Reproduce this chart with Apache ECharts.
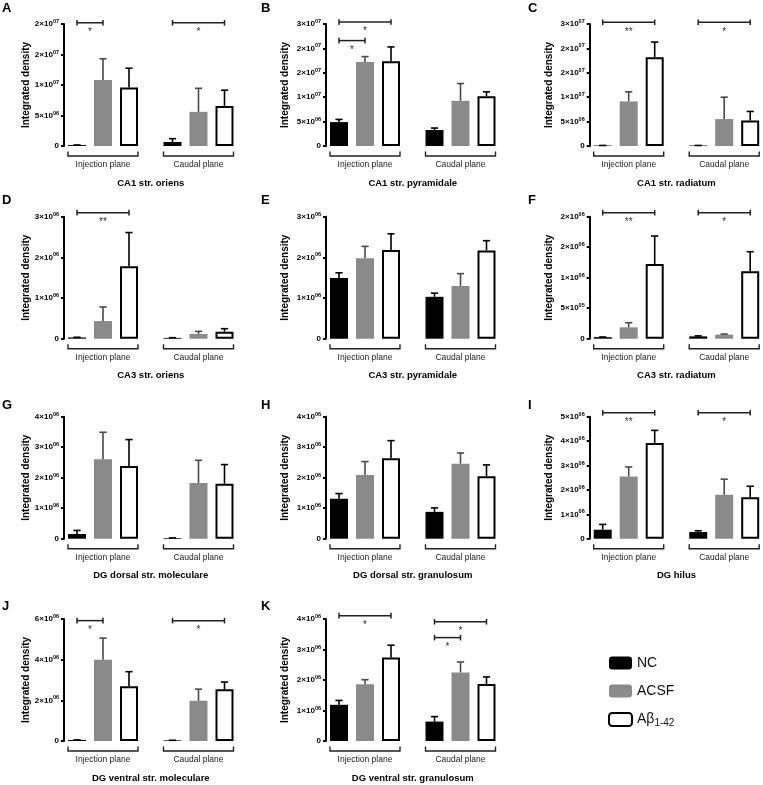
<!DOCTYPE html>
<html><head><meta charset="utf-8">
<script src="https://cdn.jsdelivr.net/npm/echarts@6/dist/echarts.min.js"></script>
<style>html,body{margin:0;padding:0;background:#fff}#c{width:763px;height:785px}</style>
</head><body><div id="c"></div>
<script>
// ---------- DATA ----------
const groups = ['Injection plane', 'Caudal plane'];
const treatments = ['NC', 'ACSF', 'Aβ1-42'];
const panelLetters = ['A','B','C','D','E','F','G','H','I','J','K'];
const panelTitles = ['CA1 str. oriens','CA1 str. pyramidale','CA1 str. radiatum',
  'CA3 str. oriens','CA3 str. pyramidale','CA3 str. radiatum',
  'DG dorsal str. moleculare','DG dorsal str. granulosum','DG hilus',
  'DG ventral str. moleculare','DG ventral str. granulosum'];
const yMax  = [2e7, 2.5e7, 2.5e7, 3e6, 3e6, 2e6, 4e6, 4e6, 5e6, 6e6, 4e6];
const yStep = [5e6, 5e6, 5e6, 1e6, 1e6, 5e5, 1e6, 1e6, 1e6, 2e6, 1e6];

const tickA = ['0','5×10^06','1×10^07','2×10^07','2×10^07'];
const tickB = ['0','5×10^06','1×10^07','2×10^07','2×10^07','3×10^07'];
const tickC = ['0','5×10^06','1×10^07','2×10^07','2×10^07','3×10^07'];
const tickD = ['0','1×10^06','2×10^06','3×10^06'];
const tickE = ['0','1×10^06','2×10^06','3×10^06'];
const tickF = ['0','5×10^05','1×10^06','2×10^06','2×10^06'];
const tickG = ['0','1×10^06','2×10^06','3×10^06','4×10^06'];
const tickH = ['0','1×10^06','2×10^06','3×10^06','4×10^06'];
const tickI = ['0','1×10^06','2×10^06','3×10^06','4×10^06','5×10^06'];
const tickJ = ['0','2×10^06','4×10^06','6×10^06'];
const tickK = ['0','1×10^06','2×10^06','3×10^06','4×10^06'];

// means: [NC, ACSF, Aβ1-42], each [Injection plane, Caudal plane]
const meanA = [[1.5e5, 6.6e5], [1.08e7, 5.6e6], [9.6e6, 6.55e6]];
const semA  = [[2e4, 5.4e5], [3.5e6, 3.85e6], [3.15e6, 2.6e6]];
const meanB = [[4.9e6, 3.27e6], [1.723e7, 9.26e6], [1.737e7, 1.022e7]];
const semB  = [[5.5e5, 4.1e5], [1.09e6, 3.54e6], [2.93e6, 8.8e5]];
const meanC = [[1e5, 1e5], [9.13e6, 5.52e6], [1.819e7, 5.25e6]];
const semC  = [[1e4, 1e4], [1.97e6, 4.48e6], [3.11e6, 1.83e6]];
const meanD = [[3e4, 2e4], [4.34e5, 1.15e5], [1.78e6, 1.72e5]];
const semD  = [[5e3, 5e3], [3.46e5, 6.5e4], [8.3e5, 7.4e4]];
const meanE = [[1.49e6, 1.03e6], [1.98e6, 1.295e6], [2.18e6, 2.17e6]];
const semE  = [[1.3e5, 9e4], [2.9e5, 3.05e5], [4e5, 2.4e5]];
const meanF = [[2.5e4, 3.8e4], [1.86e5, 6.6e4], [1.224e6, 1.104e6]];
const semF  = [[3e3, 8e3], [7.6e4, 1e4], [4.59e5, 3.22e5]];
const meanG = [[1.53e5, 2.2e4], [2.605e6, 1.83e6], [2.387e6, 1.8e6]];
const semG  = [[1.19e5, 4e3], [8.85e5, 7.4e5], [8.63e5, 6.3e5]];
const meanH = [[1.31e6, 8.8e5], [2.09e6, 2.46e6], [2.64e6, 2.05e6]];
const semH  = [[1.7e5, 1.3e5], [4.4e5, 3.5e5], [5.75e5, 3.7e5]];
const meanI = [[3.68e5, 2.72e5], [2.55e6, 1.8e6], [3.92e6, 1.7e6]];
const semI  = [[2.18e5, 5.5e4], [3.9e5, 6.4e5], [5.2e5, 4.5e5]];
const meanJ = [[5e4, 3e4], [4.0e6, 1.98e6], [2.69e6, 2.54e6]];
const semJ  = [[5e3, 5e3], [1.06e6, 5.7e5], [7.2e5, 3.6e5]];
const meanK = [[1.187e6, 6.37e5], [1.857e6, 2.25e6], [2.736e6, 1.868e6]];
const semK  = [[1.43e5, 1.63e5], [1.53e5, 3.4e5], [4.04e5, 2.32e5]];

// significance: [group, treatment from, treatment to, bar level (data units), label]
const sigA = [[0, 0, 1, 2.02e7, '*'], [1, 0, 2, 2.02e7, '*']];
const sigB = [[0, 0, 2, 2.54e7, '*'], [0, 0, 1, 2.16e7, '*']];
const sigC = [[0, 0, 2, 2.535e7, '**'], [1, 0, 2, 2.535e7, '*']];
const sigD = [[0, 0, 2, 3.1e6, '**']];
const sigE = [];
const sigF = [[0, 0, 2, 2.066e6, '**'], [1, 0, 2, 2.066e6, '*']];
const sigG = [];
const sigH = [];
const sigI = [[0, 0, 2, 5.16e6, '**'], [1, 0, 2, 5.16e6, '*']];
const sigJ = [[0, 0, 1, 5.92e6, '*'], [1, 0, 2, 5.92e6, '*']];
const sigK = [[0, 0, 2, 4.11e6, '*'], [1, 0, 2, 3.91e6, '*'], [1, 0, 1, 3.39e6, '*']];

const ticks = [tickA,tickB,tickC,tickD,tickE,tickF,tickG,tickH,tickI,tickJ,tickK];
const means = [meanA,meanB,meanC,meanD,meanE,meanF,meanG,meanH,meanI,meanJ,meanK];
const sems  = [semA,semB,semC,semD,semE,semF,semG,semH,semI,semJ,semK];
const sigs  = [sigA,sigB,sigC,sigD,sigE,sigF,sigG,sigH,sigI,sigJ,sigK];

// ---------- LAYOUT / STYLE ----------
const FONT = '"Liberation Sans", Arial, Helvetica, sans-serif';
const COL_AXIS_X = [64, 326, 589.7];
const ROW_TOP = [24, 216.7, 416.7, 619];
const PLOT_H = 122, CAT_W = 95.5, AXIS_INSET = 8.75;
const BAR_W = 18, BAR_STEP = 26;
const NAME_GAP = [33, 36, 35];
const LETTER_X = [7, 266, 533];
const LETTER_Y = [9, 201, 406, 607];
const barStyles = [
  {color: '#000', borderColor: '#000', borderWidth: 0},
  {color: '#8a8a8a', borderColor: '#8a8a8a', borderWidth: 0},
  {color: '#fff', borderColor: '#000', borderWidth: 2}
];
const errColors = ['#000', '#4a4a4a', '#000'];

const tickRich = {
  m: {fontSize: 8, fontWeight: 'bold', fontFamily: FONT, color: '#000'},
  e: {fontSize: 5.5, fontWeight: 'bold', fontFamily: FONT, color: '#000', padding: [0, 0, 5, 0]}
};
function fmtTick(t) {
  if (t === undefined) return '';
  const p = t.split('^');
  return p.length === 1 ? '{m|' + p[0] + '}' : '{m|' + p[0] + '}{e|' + p[1] + '}';
}

const grids = [], xAxes = [], yAxes = [], series = [], graphics = [];

panelTitles.forEach((title, i) => {
  const col = i % 3, row = Math.floor(i / 3);
  grids.push({left: COL_AXIS_X[col] - AXIS_INSET, top: ROW_TOP[row], width: 2 * CAT_W, height: PLOT_H,
    containLabel: false, outerBoundsMode: 'none'});
  xAxes.push({
    gridIndex: i, type: 'category', data: groups,
    axisLine: {show: false}, axisTick: {show: false}, splitLine: {show: false},
    axisLabel: {margin: 14, fontSize: 8.5, color: '#222', fontFamily: FONT},
    name: title, nameLocation: 'middle', nameGap: 32,
    nameTextStyle: {fontWeight: 'bold', fontSize: 9.5, color: '#000', fontFamily: FONT}
  });
  const tk = ticks[i], step = yStep[i];
  yAxes.push({
    gridIndex: i, type: 'value', min: 0, max: yMax[i], interval: step, offset: -AXIS_INSET,
    axisLine: {show: true, lineStyle: {color: '#000', width: 2}},
    axisTick: {show: true, length: 3, lineStyle: {color: '#000', width: 2}},
    splitLine: {show: false},
    axisLabel: {margin: 5, formatter: v => fmtTick(tk[Math.round(v / step)]), rich: tickRich},
    name: 'Integrated density', nameLocation: 'middle', nameGap: NAME_GAP[col],
    nameTextStyle: {fontWeight: 'bold', fontSize: 10, color: '#000', fontFamily: FONT}
  });
  // bars
  treatments.forEach((name, s) => {
    series.push({
      type: 'bar', name, xAxisIndex: i, yAxisIndex: i, data: means[i][s],
      barWidth: BAR_W, barGap: ((BAR_STEP - BAR_W) / BAR_W * 100) + '%',
      itemStyle: barStyles[s], silent: true, animation: false, z: 2
    });
  });
  // error bars
  const errItems = [];
  for (let s = 0; s < 3; s++) for (let g = 0; g < 2; g++)
    errItems.push({g, s, mean: means[i][s][g], sem: sems[i][s][g]});
  series.push({
    type: 'custom', xAxisIndex: i, yAxisIndex: i, silent: true, animation: false, clip: false, z: 3,
    data: errItems.map(e => [e.g, e.mean + e.sem]),
    encode: {x: 0, y: 1},
    renderItem(params, api) {
      const e = errItems[params.dataIndex];
      const b = api.coord([e.g, e.mean]);
      const t = api.coord([e.g, e.mean + e.sem]);
      const x = b[0] + (e.s - 1) * BAR_STEP;
      const c = errColors[e.s];
      return {type: 'group', children: [
        {type: 'line', shape: {x1: x, y1: b[1], x2: x, y2: t[1]}, style: {stroke: c, lineWidth: 1.6}},
        {type: 'line', shape: {x1: x - 3.6, y1: t[1], x2: x + 3.6, y2: t[1]}, style: {stroke: c, lineWidth: 1.6}}
      ]};
    }
  });
  // group brackets under the axis
  series.push({
    type: 'custom', xAxisIndex: i, yAxisIndex: i, silent: true, animation: false, clip: false,
    data: groups.map((g, k) => [k, 0]), encode: {x: 0, y: 1},
    renderItem(params, api) {
      const c = api.coord([api.value(0), 0]);
      const half = BAR_STEP + BAR_W / 2;
      const y0 = c[1] + 5.5, y1 = c[1] + 10;
      return {type: 'polyline', shape: {points: [[c[0] - half, y0], [c[0] - half, y1], [c[0] + half, y1], [c[0] + half, y0]]},
        style: {stroke: '#222', lineWidth: 1.4, fill: null}};
    }
  });
  // significance bars
  const sg = sigs[i];
  if (sg.length) series.push({
    type: 'custom', xAxisIndex: i, yAxisIndex: i, silent: true, animation: false, clip: false, z: 4,
    data: sg.map(d => [d[0], d[3]]), encode: {x: 0, y: 1},
    renderItem(params, api) {
      const d = sg[params.dataIndex];
      const c = api.coord([d[0], d[3]]);
      const x1 = c[0] + (d[1] - 1) * BAR_STEP, x2 = c[0] + (d[2] - 1) * BAR_STEP, y = c[1];
      const st = {stroke: '#222', lineWidth: 1.5};
      return {type: 'group', children: [
        {type: 'line', shape: {x1, y1: y, x2, y2: y}, style: st},
        {type: 'line', shape: {x1, y1: y - 2.8, x2: x1, y2: y + 2.8}, style: st},
        {type: 'line', shape: {x1: x2, y1: y - 2.8, x2, y2: y + 2.8}, style: st},
        {type: 'text', style: {text: d[4], x: (x1 + x2) / 2, y: y + 4.5, align: 'center', verticalAlign: 'top',
          fontSize: 10, fontFamily: FONT, fill: '#333'}}
      ]};
    }
  });
  graphics.push({type: 'text', left: LETTER_X[col] - 5, top: LETTER_Y[row] - 7,
    style: {text: panelLetters[i], fontSize: 13, fontWeight: 'bold', fontFamily: FONT, fill: '#000'}});
});

const chart = echarts.init(document.getElementById('c'), null, {renderer: 'canvas'});
chart.setOption({
  backgroundColor: '#fff',
  animation: false,
  grid: grids, xAxis: xAxes, yAxis: yAxes, series,
  graphic: graphics,
  legend: {
    data: treatments, orient: 'vertical', left: 603, top: 651,
    itemWidth: 23, itemHeight: 13, itemGap: 14, icon: 'roundRect',
    selectedMode: false,
    formatter: n => n === 'Aβ1-42' ? '{t|Aβ}{s|1-42}' : '{t|' + n + '}',
    textStyle: {
      rich: {
        t: {fontSize: 14, fontFamily: FONT, color: '#111'},
        s: {fontSize: 10, fontFamily: FONT, color: '#111', padding: [8, 0, 0, 0]}
      }
    }
  }
});
</script></body></html>
